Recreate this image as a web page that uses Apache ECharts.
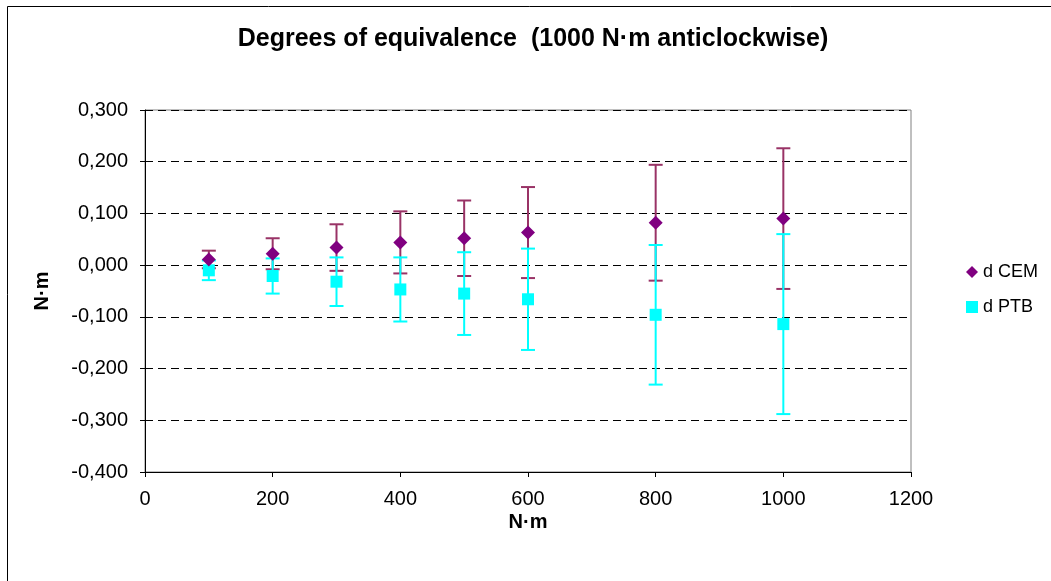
<!DOCTYPE html>
<html>
<head>
<meta charset="utf-8">
<title>Degrees of equivalence</title>
<script src="https://cdn.jsdelivr.net/npm/echarts@6/dist/echarts.min.js"></script>
<style>
  html, body { margin: 0; padding: 0; background: #ffffff; }
  #chart { width: 1051px; height: 581px; }
</style>
</head>
<body>
<div id="chart"></div>
<script>
// Nominal torque steps (N·m)
const torqueSteps = [100, 200, 300, 400, 500, 600, 800, 1000];

// Degree of equivalence d and its expanded uncertainty U (N·m)
const cemValues = [0.011, 0.022, 0.034, 0.044, 0.052, 0.063, 0.082, 0.090];
const cemU      = [0.017, 0.030, 0.045, 0.060, 0.073, 0.088, 0.112, 0.136];
const ptbValues = [-0.010, -0.021, -0.032, -0.047, -0.055, -0.066, -0.096, -0.114];
const ptbU      = [0.019, 0.034, 0.047, 0.062, 0.080, 0.098, 0.135, 0.174];

// Axis ticks
const yTicks = [-0.4, -0.3, -0.2, -0.1, 0, 0.1, 0.2, 0.3];
const xTicks = [0, 200, 400, 600, 800, 1000, 1200];

const FONT = '"Liberation Sans", Arial, sans-serif';
const CEM_MARK = '#800080';
const CEM_BAR = '#993366';
const PTB_COLOR = '#00FFFF';

function points(values) {
  return torqueSteps.map((x, i) => [x, values[i]]);
}
function bars(values, u) {
  return torqueSteps.map((x, i) => [x, values[i] - u[i], values[i] + u[i]]);
}

// Vertical error bar with horizontal caps, in pixel space from data coords
function errorBar(color) {
  return function (params, api) {
    const lo = api.coord([api.value(0), api.value(1)]);
    const hi = api.coord([api.value(0), api.value(2)]);
    const half = 7;
    const style = { stroke: color, lineWidth: 2 };
    return {
      type: 'group',
      children: [
        { type: 'line', shape: { x1: hi[0], y1: hi[1], x2: lo[0], y2: lo[1] }, style },
        { type: 'line', shape: { x1: hi[0] - half, y1: hi[1], x2: hi[0] + half, y2: hi[1] }, style },
        { type: 'line', shape: { x1: lo[0] - half, y1: lo[1], x2: lo[0] + half, y2: lo[1] }, style }
      ]
    };
  };
}

// Decimal comma, three places
const fmtY = v => (Math.abs(v) < 1e-9 ? 0 : v).toFixed(3).replace('.', ',');
const fmtX = v => String(Math.round(v));

const grid = { left: 145, top: 110, width: 766, height: 362 };

const chart = echarts.init(document.getElementById('chart'), null, { renderer: 'canvas' });
chart.setOption({
  backgroundColor: '#ffffff',
  animation: false,
  textStyle: { fontFamily: FONT },
  grid: Object.assign({ show: true, borderColor: '#808080', borderWidth: 1, containLabel: false }, grid),
  xAxis: {
    type: 'value',
    min: xTicks[0],
    max: xTicks[xTicks.length - 1],
    interval: 200,
    axisLine: { show: true, onZero: false, lineStyle: { color: '#000000', width: 1 } },
    axisTick: { show: true, inside: false, length: 5, lineStyle: { color: '#000000' } },
    axisLabel: { margin: 17, color: '#000000', fontSize: 20, fontFamily: FONT, formatter: fmtX },
    splitLine: { show: false }
  },
  yAxis: {
    type: 'value',
    min: yTicks[0],
    max: yTicks[yTicks.length - 1],
    interval: 0.1,
    axisLine: { show: true, onZero: false, lineStyle: { color: '#000000', width: 1 } },
    axisTick: { show: true, inside: false, length: 5, lineStyle: { color: '#000000' } },
    axisLabel: { margin: 17, color: '#000000', fontSize: 20, fontFamily: FONT, formatter: fmtY },
    splitLine: { show: true, lineStyle: { color: '#000000', width: 1, type: [8, 5] } }
  },
  legend: {
    orient: 'vertical',
    left: 966,
    top: 262,
    padding: 0,
    itemWidth: 12,
    itemHeight: 12,
    itemGap: 15,
    textStyle: { fontSize: 18, color: '#000000', fontFamily: FONT, lineHeight: 20 },
    data: [
      { name: 'd CEM', icon: 'diamond' },
      { name: 'd PTB', icon: 'rect' }
    ]
  },
  series: [
    {
      name: 'U CEM',
      type: 'custom',
      renderItem: errorBar(CEM_BAR),
      data: bars(cemValues, cemU),
      encode: { x: 0, y: [1, 2] },
      z: 2,
      silent: true
    },
    {
      name: 'U PTB',
      type: 'custom',
      renderItem: errorBar(PTB_COLOR),
      data: bars(ptbValues, ptbU),
      encode: { x: 0, y: [1, 2] },
      z: 3,
      silent: true
    },
    {
      name: 'd CEM',
      type: 'scatter',
      symbol: 'diamond',
      symbolSize: [14, 14],
      itemStyle: { color: CEM_MARK, opacity: 1 },
      data: points(cemValues),
      z: 5
    },
    {
      name: 'd PTB',
      type: 'scatter',
      symbol: 'rect',
      symbolSize: [12, 12],
      itemStyle: { color: PTB_COLOR, opacity: 1 },
      data: points(ptbValues),
      z: 4
    }
  ],
  graphic: [
    {
      type: 'rect',
      shape: { x: 7.5, y: 6.5, width: 1100, height: 700 },
      style: { fill: null, stroke: '#000000', lineWidth: 1 },
      silent: true,
      z: 0
    },
    {
      type: 'text',
      x: 533,
      y: 39,
      style: {
        text: 'Degrees of equivalence  (1000 N·m anticlockwise)',
        font: 'bold 25px ' + FONT,
        fill: '#000000',
        align: 'center',
        verticalAlign: 'middle'
      }
    },
    {
      type: 'text',
      x: 528,
      y: 522,
      style: {
        text: 'N·m',
        font: 'bold 20px ' + FONT,
        fill: '#000000',
        align: 'center',
        verticalAlign: 'middle'
      }
    },
    {
      type: 'text',
      x: 42,
      y: 291,
      rotation: Math.PI / 2,
      style: {
        text: 'N·m',
        font: 'bold 20px ' + FONT,
        fill: '#000000',
        align: 'center',
        verticalAlign: 'middle'
      }
    }
  ]
});
</script>
</body>
</html>
